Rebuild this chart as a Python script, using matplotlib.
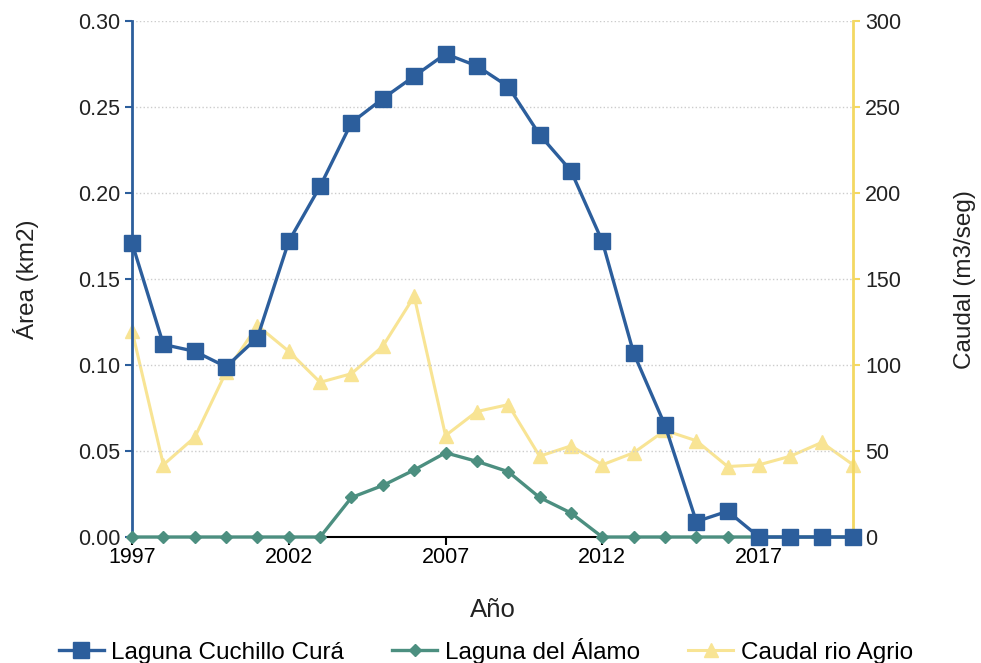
import matplotlib.pyplot as plt

plt.rcParams['font.family'] = ['Liberation Sans', 'DejaVu Sans']

years = list(range(1997, 2021))
cuchillo_cura = [0.171, 0.112, 0.108, 0.099, 0.116, 0.172, 0.204, 0.241, 0.255, 0.268,
                 0.281, 0.274, 0.262, 0.234, 0.213, 0.172, 0.107, 0.065, 0.009, 0.015,
                 0.0, 0.0, 0.0, 0.0]
del_alamo = [0.0, 0.0, 0.0, 0.0, 0.0, 0.0, 0.0, 0.023, 0.030, 0.039,
             0.049, 0.044, 0.038, 0.023, 0.014, 0.0, 0.0, 0.0, 0.0, 0.0,
             0.0, 0.0, 0.0, 0.0]
caudal_agrio = [120, 42, 58, 96, 123, 108, 90, 95, 111, 140,
                59, 73, 77, 47, 53, 42, 49, 62, 56, 41,
                42, 47, 55, 42]

blue = '#2c5e9c'
green = '#4c8f80'
yellow = '#f8e494'
yellow_axis = '#f3d862'

fig = plt.figure(figsize=(9.81, 6.63), dpi=100)
ax = fig.add_axes([0.1346, 0.19, 0.735, 0.778])
ax2 = ax.twinx()
ax.set_zorder(2)
ax.patch.set_visible(False)

l3, = ax2.plot(years, caudal_agrio, color=yellow, lw=2.2, marker='^', ms=10,
               label='Caudal rio Agrio', clip_on=False)
l2, = ax.plot(years, del_alamo, color=green, lw=2.4, marker='D', ms=6.5,
              label='Laguna del Álamo', zorder=3, clip_on=False)
l1, = ax.plot(years, cuchillo_cura, color=blue, lw=2.4, marker='s', ms=11,
              label='Laguna Cuchillo Curá', zorder=4, clip_on=False)

ax.set_xlim(1997, 2020)
ax.set_ylim(0, 0.30)
ax2.set_ylim(0, 300)
ax.set_xticks([1997, 2002, 2007, 2012, 2017])
ax.set_yticks([0, 0.05, 0.10, 0.15, 0.20, 0.25, 0.30])
ax.set_yticklabels([f'{v:.2f}' for v in ax.get_yticks()])
ax2.set_yticks([0, 50, 100, 150, 200, 250, 300])

ax.grid(axis='y', linestyle=':', color='#cccccc', lw=1)
ax.set_axisbelow(True)

for a in (ax, ax2):
    a.spines['top'].set_visible(False)
ax.spines['right'].set_visible(False)
ax2.spines['left'].set_visible(False)
ax2.spines['bottom'].set_visible(False)
ax.spines['left'].set_color(blue)
ax.spines['left'].set_linewidth(2)
ax2.spines['right'].set_color(yellow_axis)
ax2.spines['right'].set_linewidth(2)
ax.spines['bottom'].set_color('black')
ax.spines['bottom'].set_linewidth(1.5)

ax.tick_params(axis='y', colors=blue, labelcolor='#222222', labelsize=15.5, length=5, width=1.5)
ax.tick_params(axis='x', labelsize=15.5, length=6, width=1.5, pad=1)
ax2.tick_params(axis='y', colors=yellow_axis, labelcolor='#222222', labelsize=15.5, length=5, width=1.5)

ax.set_xlabel('Año', fontsize=18.5, labelpad=22, color='#222222')
ax.set_ylabel('Área (km2)', fontsize=17.5, labelpad=28, color='#222222')
ax2.set_ylabel('Caudal (m3/seg)', fontsize=17.5, labelpad=38, color='#222222')

fig.legend(handles=[l1, l2, l3], loc='lower center', bbox_to_anchor=(0.495, -0.034),
           ncol=3, frameon=False, fontsize=17.5, handlelength=1.85, columnspacing=2.0,
           handletextpad=0.3)

fig.savefig('out.png', dpi=100)
